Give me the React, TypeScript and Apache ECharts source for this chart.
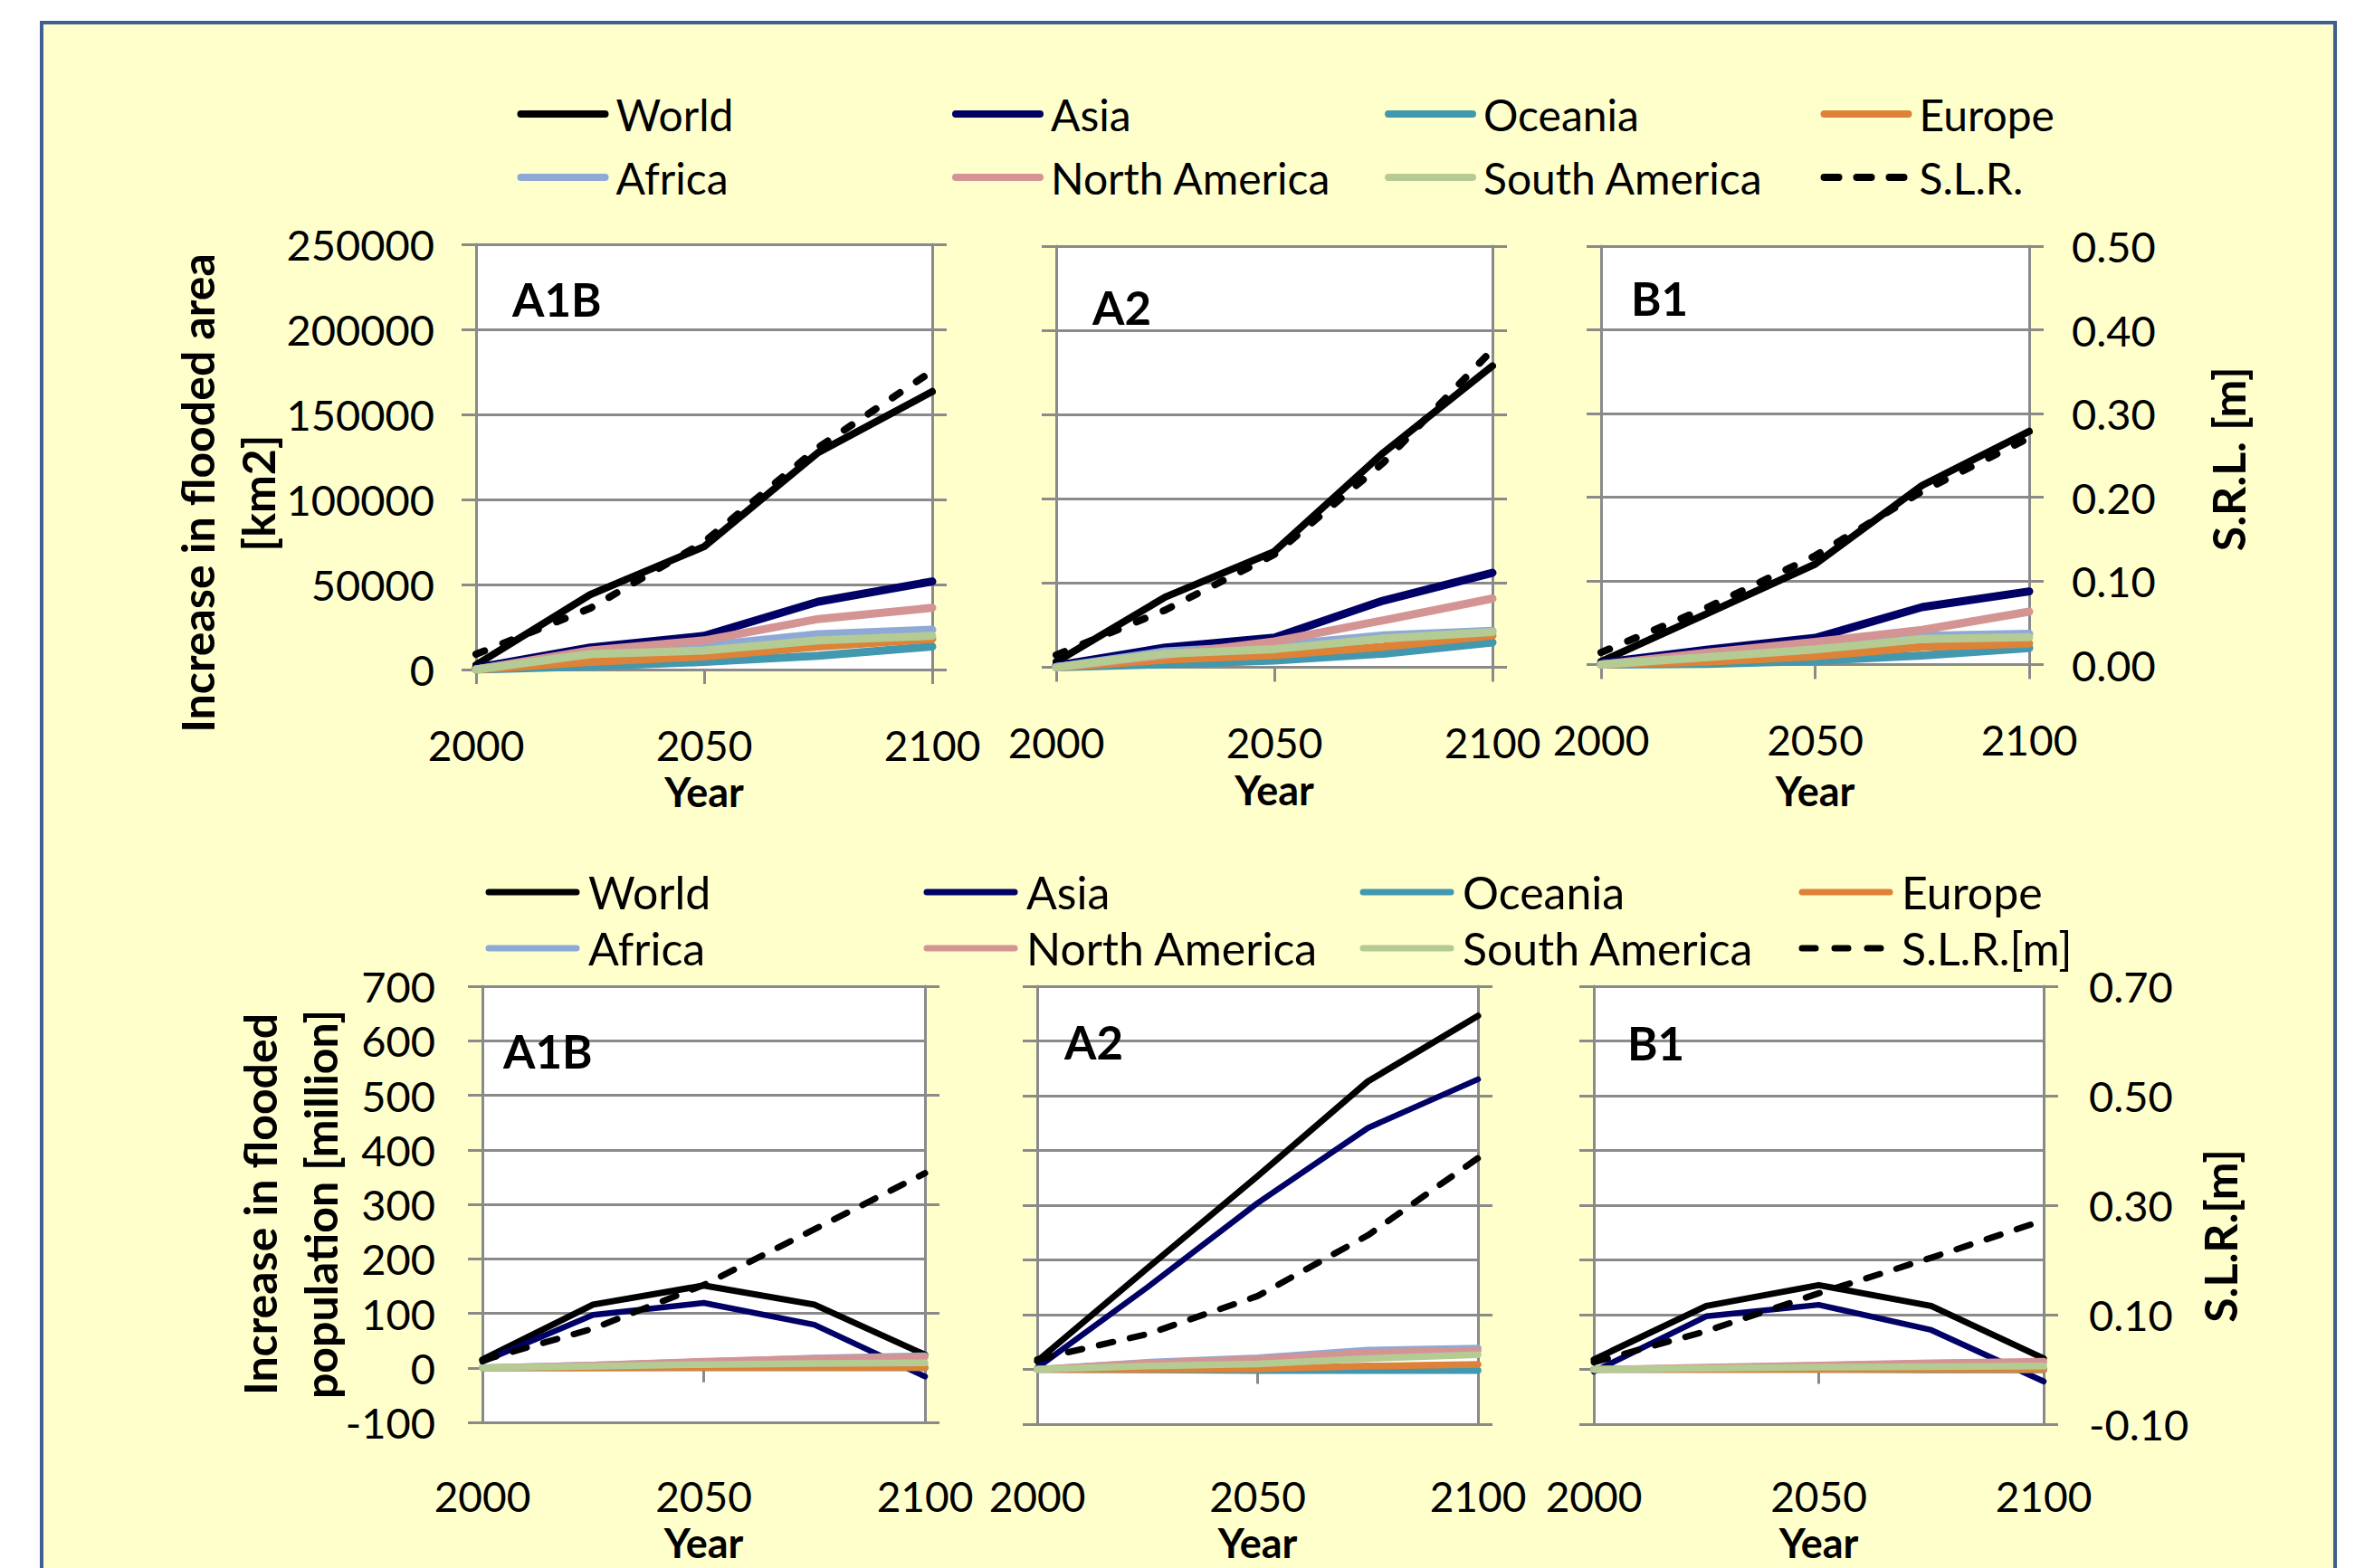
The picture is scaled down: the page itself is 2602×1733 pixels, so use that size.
import React, { useEffect, useRef } from 'react';
import * as echarts from 'echarts';

// ---------- data ----------
const years = [2000, 2025, 2050, 2075, 2100];
const seriesNames = ['World', 'Asia', 'Oceania', 'Europe', 'Africa', 'North America', 'South America'];
const seriesColors = ['#000000', '#000066', '#4198AF', '#DD8237', '#8EA9D5', '#D49494', '#B4CB93'];
const slrNameArea = 'S.L.R.';
const slrNamePop = 'S.L.R.[m]';
const panelLabels = ['A1B', 'A2', 'B1', 'A1B', 'A2', 'B1'];

// Increase in flooded area [km2]
const areaA1B_World = [2700, 44000, 72300, 127600, 163400];
const areaA1B_Asia = [1000, 12900, 19800, 39900, 51800];
const areaA1B_Oceania = [0, 1800, 4500, 8100, 13500];
const areaA1B_Europe = [0, 4500, 7700, 13500, 18000];
const areaA1B_Africa = [0, 9900, 14000, 20700, 23400];
const areaA1B_NorthAmerica = [0, 11200, 17100, 29700, 36300];
const areaA1B_SouthAmerica = [0, 9000, 11200, 17100, 19800];
const areaA1B_SLR = [0.018, 0.072, 0.15, 0.261, 0.351];

const areaA2_World = [3200, 41700, 68700, 127400, 178900];
const areaA2_Asia = [1000, 11700, 17600, 39600, 56100];
const areaA2_Oceania = [0, 1800, 4000, 8100, 14800];
const areaA2_Europe = [0, 4500, 7200, 12200, 18900];
const areaA2_Africa = [0, 9400, 12900, 18900, 21600];
const areaA2_NorthAmerica = [0, 7200, 15300, 27900, 40800];
const areaA2_SouthAmerica = [0, 8100, 10800, 17100, 21000];
const areaA2_SLR = [0.0145, 0.068, 0.134, 0.243, 0.377];

const areaB1_World = [1800, 30700, 60000, 107000, 139300];
const areaB1_Asia = [1000, 9000, 15900, 34300, 43700];
const areaB1_Oceania = [0, 400, 2200, 5400, 9900];
const areaB1_Europe = [0, 1800, 5000, 10500, 12600];
const areaB1_Africa = [0, 5400, 9900, 17200, 18400];
const areaB1_NorthAmerica = [0, 7200, 13500, 20700, 31600];
const areaB1_SouthAmerica = [0, 4500, 9000, 15300, 16300];
const areaB1_SLR = [0.0144, 0.0686, 0.13, 0.207, 0.271];

// Increase in flooded population [million]
const popA1B_World = [15, 116, 151, 116, 24];
const popA1B_Asia = [11, 97, 119, 79, -16];
const popA1B_Oceania = [0, 0, 0, 0, 0];
const popA1B_Europe = [0, 0, 1, 1, 1];
const popA1B_Africa = [0, 5, 11, 18, 22];
const popA1B_NorthAmerica = [0, 5, 12, 17, 20];
const popA1B_SouthAmerica = [0, 3, 6, 8, 9];
const popA1B_SLR = [0.0136, 0.072, 0.152, 0.254, 0.357];

const popA2_World = [15, 185, 353, 526, 646];
const popA2_Asia = [3, 150, 304, 441, 530];
const popA2_Oceania = [0, -1, -2, -2, -2];
const popA2_Europe = [0, 0, 1, 6, 9];
const popA2_Africa = [0, 13, 21, 35, 39];
const popA2_NorthAmerica = [0, 12, 19, 31, 35];
const popA2_SouthAmerica = [0, 6, 10, 20, 27];
const popA2_SLR = [0.0185, 0.0644, 0.134, 0.245, 0.386];

const popB1_World = [18, 116, 154, 116, 20];
const popB1_Asia = [-4, 97, 118, 72, -22];
const popB1_Oceania = [0, 0, 0, -1, -1];
const popB1_Europe = [0, 0, 0, 0, 0];
const popB1_Africa = [0, 3, 7, 11, 13];
const popB1_NorthAmerica = [0, 4, 8, 12, 15];
const popB1_SouthAmerica = [0, 2, 4, 5, 6];
const popB1_SLR = [0.013, 0.07, 0.139, 0.204, 0.2725];

const panelRegions = [
  [areaA1B_World, areaA1B_Asia, areaA1B_Oceania, areaA1B_Europe, areaA1B_Africa, areaA1B_NorthAmerica, areaA1B_SouthAmerica],
  [areaA2_World, areaA2_Asia, areaA2_Oceania, areaA2_Europe, areaA2_Africa, areaA2_NorthAmerica, areaA2_SouthAmerica],
  [areaB1_World, areaB1_Asia, areaB1_Oceania, areaB1_Europe, areaB1_Africa, areaB1_NorthAmerica, areaB1_SouthAmerica],
  [popA1B_World, popA1B_Asia, popA1B_Oceania, popA1B_Europe, popA1B_Africa, popA1B_NorthAmerica, popA1B_SouthAmerica],
  [popA2_World, popA2_Asia, popA2_Oceania, popA2_Europe, popA2_Africa, popA2_NorthAmerica, popA2_SouthAmerica],
  [popB1_World, popB1_Asia, popB1_Oceania, popB1_Europe, popB1_Africa, popB1_NorthAmerica, popB1_SouthAmerica],
];
const panelSLR = [areaA1B_SLR, areaA2_SLR, areaB1_SLR, popA1B_SLR, popA2_SLR, popB1_SLR];

// ---------- layout / styles ----------
const FONT = 'Lato';
const GRAY = '#8a8a8a';
const GW = 3;

const gridPos = [
  { left: 526, top: 270, width: 504, height: 470 },
  { left: 1167, top: 272, width: 482, height: 465.5 },
  { left: 1769, top: 272, width: 473, height: 462.5 },
  { left: 533, top: 1090, width: 489, height: 482 },
  { left: 1146, top: 1090, width: 487, height: 484 },
  { left: 1761, top: 1090, width: 497, height: 484 },
];
const labelPos = [
  [566, 330], [1207, 339], [1802, 329],
  [556, 1161], [1176, 1151], [1798, 1152],
];
const yearGap = [115, 115, 119, 113, 111, 111];
const xLabelMargin = [63, 63, 63, 61, 59, 59];

function buildOption() {
  const grid: any[] = [];
  const xAxis: any[] = [];
  const yAxis: any[] = [];
  const series: any[] = [];

  panelRegions.forEach((regions, g) => {
    const row = g < 3 ? 0 : 1;
    const col = g % 3;
    grid.push({ ...gridPos[g], show: true, backgroundColor: '#ffffff', borderWidth: 0, containLabel: false, outerBoundsMode: 'none' });

    const xIdx = xAxis.length;
    xAxis.push({
      type: 'value', gridIndex: g, min: 2000, max: 2100, interval: 50,
      position: 'bottom',
      axisLine: { show: row === 0, onZero: false, lineStyle: { color: GRAY, width: GW } },
      axisTick: { show: row === 0, length: 16, lineStyle: { color: GRAY, width: GW } },
      axisLabel: {
        margin: xLabelMargin[g], fontSize: 46, lineHeight: 40, fontFamily: FONT, color: '#000',
        formatter: (v: number) => String(v), showMinLabel: true, showMaxLabel: true,
      },
      splitLine: { show: false },
      name: 'Year', nameLocation: 'middle', nameGap: yearGap[g], nameMoveOverlap: false,
      nameTextStyle: { fontFamily: FONT, fontSize: 45, fontWeight: 'bold', color: '#000', lineHeight: 40 },
    });
    if (row === 1) {
      xAxis.push({
        type: 'value', gridIndex: g, min: 2000, max: 2100, interval: 50,
        position: 'bottom',
        axisLine: { show: true, onZero: true, lineStyle: { color: GRAY, width: GW } },
        axisTick: { show: true, length: 16, lineStyle: { color: GRAY, width: GW } },
        axisLabel: { show: false },
        splitLine: { show: false },
      });
    }

    const yIdx = yAxis.length;
    const prim: any = row === 0
      ? { min: 0, max: 250000, interval: 50000 }
      : { min: -100, max: 700, interval: 100 };
    const sec: any = row === 0
      ? { min: 0, max: 0.5, interval: 0.1 }
      : { min: -0.1, max: 0.7, interval: 0.2 };
    const leftName = row === 0 ? 'Increase in flooded area\n[km2]' : 'Increase in flooded\npopulation [million]';
    yAxis.push({
      type: 'value', gridIndex: g, position: 'left', ...prim,
      axisLine: { show: true, onZero: false, lineStyle: { color: GRAY, width: GW } },
      axisTick: { show: true, length: 16, lineStyle: { color: GRAY, width: GW } },
      axisLabel: {
        show: col === 0, margin: row === 0 ? 46 : 52, fontSize: 47, fontFamily: FONT, color: '#000',
        formatter: (v: number) => String(Math.round(v)), showMinLabel: true, showMaxLabel: true,
      },
      splitLine: { show: true, lineStyle: { color: GRAY, width: GW } },
      name: col === 0 ? leftName : '', nameLocation: 'middle', nameRotate: 90,
      nameGap: row === 0 ? 208 : 146, nameMoveOverlap: false,
      nameTextStyle: {
        fontFamily: FONT, fontSize: 50, fontWeight: 'bold', color: '#000', lineHeight: 67,
        padding: row === 0 ? [0, 80, 0, 0] : [0, 0, 0, 0],
      },
    });
    yAxis.push({
      type: 'value', gridIndex: g, position: 'right', ...sec,
      axisLine: { show: true, onZero: false, lineStyle: { color: GRAY, width: GW } },
      axisTick: { show: true, length: 16, lineStyle: { color: GRAY, width: GW } },
      axisLabel: {
        show: col === 2, margin: row === 0 ? 47 : 50, fontSize: 47, fontFamily: FONT, color: '#000',
        formatter: (v: number) => v.toFixed(2), showMinLabel: true, showMaxLabel: true,
      },
      splitLine: { show: false },
      name: col === 2 ? (row === 0 ? 'S.R.L. [m]' : 'S.L.R.[m]') : '',
      nameLocation: 'middle', nameRotate: 90, nameGap: row === 0 ? 190 : 165, nameMoveOverlap: false,
      nameTextStyle: {
        fontFamily: FONT, fontSize: 50, fontWeight: 'bold', color: '#000', lineHeight: 60,
        padding: row === 0 ? [0, 8, 0, 0] : [0, 68, 0, 0],
      },
    });

    regions.forEach((vals, k) => {
      const w = row === 0 ? (k === 0 ? 8 : 9) : (k === 0 ? 7 : k === 1 ? 6.5 : 7.5);
      series.push({
        type: 'line', name: seriesNames[k], xAxisIndex: xIdx, yAxisIndex: yIdx,
        data: years.map((yr, j) => [yr, vals[j]]),
        symbol: 'none', showSymbol: false, silent: true,
        lineStyle: { color: seriesColors[k], width: w, cap: 'round', join: 'round' },
        itemStyle: { color: seriesColors[k] },
      });
    });
    const slr = panelSLR[g];
    series.push({
      type: 'line', name: row === 0 ? slrNameArea : slrNamePop, xAxisIndex: xIdx, yAxisIndex: yIdx + 1,
      data: years.map((yr, j) => [yr, slr[j]]),
      symbol: 'none', showSymbol: false, silent: true,
      lineStyle: { color: '#000', width: row === 0 ? 8 : 7, type: row === 0 ? [10, 22] : [16, 19], cap: 'round', join: 'round' },
      itemStyle: { color: '#000' },
    });
  });

  // legends: 4 columns x 2 rows, for each block
  const colorOf = (n: string) => {
    const i = seriesNames.indexOf(n);
    return i >= 0 ? seriesColors[i] : '#000';
  };
  const legendItem = (n: string, w: number, dash: number[] | null) => ({
    name: n,
    lineStyle: { color: colorOf(n), width: w, cap: 'round', type: dash ? dash : 'solid' },
    itemStyle: { opacity: 0, color: 'transparent', borderWidth: 0 },
  });
  const legend: any[] = [];
  const topCols = [
    [['World', 'Africa'], 571.5],
    [['Asia', 'North America'], 1052],
    [['Oceania', 'South America'], 1530],
    [['Europe', slrNameArea], 2011.5],
  ];
  topCols.forEach(([names, left]: any) => {
    legend.push({
      orient: 'vertical', left, top: 101, itemWidth: 93, itemHeight: 50, itemGap: 20, padding: 0,
      selectedMode: false,
      data: names.map((n: string) => legendItem(n, 8, n === slrNameArea ? [16, 20] : null)),
      textStyle: { fontFamily: FONT, fontSize: 48, color: '#000', lineHeight: 50, padding: [0, 0, 0, 7] },
    });
  });
  const botCols = [
    [['World', 'Africa'], 536.5],
    [['Asia', 'North America'], 1020.5],
    [['Oceania', 'South America'], 1502.5],
    [['Europe', slrNamePop], 1987.5],
  ];
  botCols.forEach(([names, left]: any) => {
    legend.push({
      orient: 'vertical', left, top: 961, itemWidth: 97, itemHeight: 50, itemGap: 12, padding: 0,
      selectedMode: false,
      data: names.map((n: string) => legendItem(n, 7, n === slrNamePop ? [15, 21] : null)),
      textStyle: { fontFamily: FONT, fontSize: 50, color: '#000', lineHeight: 50, padding: [0, 0, 0, 8] },
    });
  });

  const graphic: any[] = [
    {
      type: 'rect', z: -10, silent: true,
      shape: { x: 46, y: 25, width: 2534, height: 1800 },
      style: { fill: '#FFFFCC', stroke: '#3D5F91', lineWidth: 4 },
    },
  ];
  panelLabels.forEach((t, g) => {
    graphic.push({
      type: 'text', z: 50, x: labelPos[g][0], y: labelPos[g][1], silent: true,
      style: { text: t, fontFamily: FONT, fontSize: 51, fontWeight: 'bold', fill: '#000', align: 'left', verticalAlign: 'middle' },
    });
  });

  return {
    animation: false,
    backgroundColor: 'transparent',
    grid, xAxis, yAxis, series, legend, graphic,
  };
}

export default function App() {
  const ref = useRef<HTMLDivElement>(null);
  useEffect(() => {
    if (!ref.current) return;
    const chart = echarts.init(ref.current, undefined, { renderer: 'svg' });
    chart.setOption(buildOption() as any);
    return () => chart.dispose();
  }, []);
  return (
    <div
      ref={ref}
      style={{ position: 'fixed', left: 0, top: 0, width: 2602, height: 1733, background: '#ffffff' }}
    />
  );
}
